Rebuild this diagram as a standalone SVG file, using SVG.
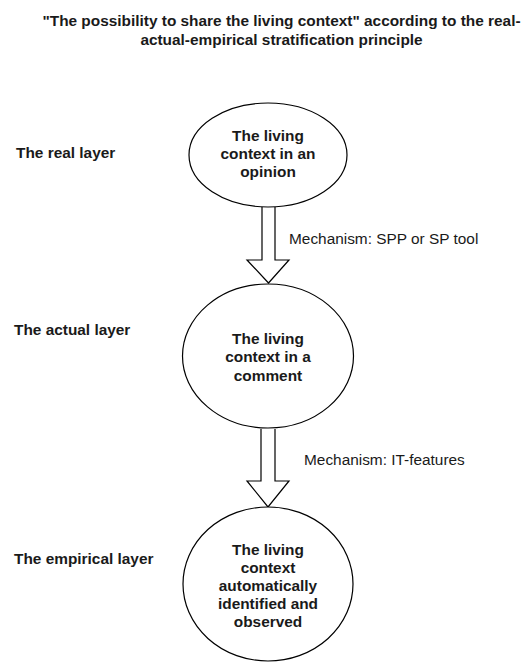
<svg xmlns="http://www.w3.org/2000/svg" width="531" height="662" viewBox="0 0 531 662">
<style>
.bg{fill:#ffffff}
.node{fill:#ffffff;stroke:#000000;stroke-width:1.2}
.arrow{fill:#ffffff;stroke:#000000;stroke-width:1.2;stroke-linejoin:miter}
.t{font-family:"Liberation Sans",Arial,sans-serif;font-size:15.4px;fill:#1a1a1a}
.b{font-weight:bold}
.c{text-anchor:middle}
</style>
<rect class="bg" x="0" y="0" width="531" height="662"/>
<g id="title">
<text class="t b c" x="281.5" y="26">"The possibility to share the living context" according to the real-</text>
<text class="t b c" x="281.5" y="45">actual-empirical stratification principle</text>
</g>
<g id="label-real"><text class="t b" x="16" y="158">The real layer</text></g>
<g id="label-actual"><text class="t b" x="14" y="335">The actual layer</text></g>
<g id="label-empirical"><text class="t b" x="14" y="564">The empirical layer</text></g>
<g id="connectors">
<path class="arrow" d="M262,207 L262,260 L247,260 L268.5,283 L289,260 L275,260 L275,207"/>
<path class="arrow" d="M261,429 L261,481 L247,481 L268,507 L289,481 L275,481 L275,429"/>
<text class="t" x="289" y="244">Mechanism: SPP or SP tool</text>
<text class="t" x="304" y="465">Mechanism: IT-features</text>
</g>
<g id="node-real">
<ellipse class="node" cx="268" cy="155" rx="79" ry="52"/>
<text class="t b c" x="268" y="141">The living</text>
<text class="t b c" x="268" y="159">context in an</text>
<text class="t b c" x="268" y="177">opinion</text>
</g>
<g id="node-actual">
<ellipse class="node" cx="268" cy="356" rx="85.5" ry="72"/>
<text class="t b c" x="268" y="344">The living</text>
<text class="t b c" x="268" y="362">context in a</text>
<text class="t b c" x="268" y="381">comment</text>
</g>
<g id="node-empirical">
<ellipse class="node" cx="268" cy="584" rx="85" ry="77"/>
<text class="t b c" x="268" y="555">The living</text>
<text class="t b c" x="268" y="573">context</text>
<text class="t b c" x="268" y="591">automatically</text>
<text class="t b c" x="268" y="609">identified and</text>
<text class="t b c" x="268" y="627">observed</text>
</g>
</svg>
